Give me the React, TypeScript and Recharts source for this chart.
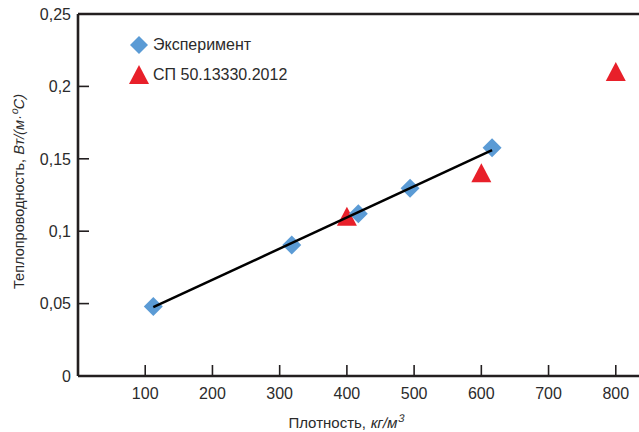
import { ScatterChart, Scatter, XAxis, YAxis, ReferenceLine } from "recharts";

const experimentDensity = [112, 318, 417, 494, 616];
const experimentLambda = [0.048, 0.0905, 0.112, 0.1296, 0.1577];

const spDensity = [400, 600, 800];
const spLambda = [0.11, 0.14, 0.21];

// trend line ends
const trendDensity = [112, 616];
const trendLambda = [0.0475, 0.156];

const xTicks = [100, 200, 300, 400, 500, 600, 700, 800];
const yTicks = [0, 0.05, 0.1, 0.15, 0.2, 0.25];

const experiment = experimentDensity.map((x, i) => ({ x, y: experimentLambda[i] }));
const sp = spDensity.map((x, i) => ({ x, y: spLambda[i] }));
const trend = trendDensity.map((x, i) => ({ x, y: trendLambda[i] }));

const FONT = "'Liberation Sans', Arial, sans-serif";
const AXIS = "#231f20";
const TEXT = "#2b2b2b";
const BLUE = "#5b9bd5";
const RED = "#e8202a";

const Diamond = (props: any) => {
  const { cx, cy } = props;
  const r = 9.5;
  return (
    <polygon
      points={`${cx},${cy - r} ${cx + r},${cy} ${cx},${cy + r} ${cx - r},${cy}`}
      fill={BLUE}
    />
  );
};

const Triangle = (props: any) => {
  const { cx, cy } = props;
  return (
    <polygon points={`${cx},${cy - 10} ${cx + 10},${cy + 9} ${cx - 10},${cy + 9}`} fill={RED} />
  );
};

const NoDot = () => null;

const XTick = (props: any) => {
  const { x, y, payload } = props;
  const axisY = y - 11;
  return (
    <g>
      <line x1={x} y1={axisY} x2={x} y2={axisY - 11} stroke={AXIS} strokeWidth={1.6} />
      <text x={x} y={y} dy="0.72em" textAnchor="middle" fill={TEXT} fontSize={16} fontFamily={FONT}>
        {payload.value}
      </text>
    </g>
  );
};

const YTick = (props: any) => {
  const { x, y, payload } = props;
  const axisX = x + 7;
  return (
    <g>
      {payload.value !== 0 && (
        <line x1={axisX} y1={y} x2={axisX + 11} y2={y} stroke={AXIS} strokeWidth={1.6} />
      )}
      <text x={x} y={y} dy="0.36em" textAnchor="end" fill={TEXT} fontSize={16} fontFamily={FONT}>
        {String(payload.value).replace(".", ",")}
      </text>
    </g>
  );
};

// italic parts drawn as slanted upright glyphs, like the original's oblique face
const XLabel = () => (
  <g fill={TEXT} fontSize={15} fontFamily={FONT}>
    <text x={366} y={428} textAnchor="end">
      Плотность,
    </text>
    <g transform="translate(370 428) skewX(-12)">
      <text x={0} y={0}>
        кг/м
        <tspan fontSize={11} dy={-6}>3</tspan>
      </text>
    </g>
  </g>
);

const YLabel = () => (
  <g fill={TEXT} fontSize={14.5} fontFamily={FONT} transform="translate(24 0) rotate(-90)">
    <text x={-159} y={0} textAnchor="end">
      Теплопроводность,
    </text>
    <g transform="translate(-155.5 0) skewX(-12)">
      <text x={0} y={0}>
        Вт/(м·
        <tspan fontSize={10.5} dy={-6}>o</tspan>
        <tspan dy={6}>С)</tspan>
      </text>
    </g>
  </g>
);

const LegendBox = () => (
  <div
    style={{
      position: "absolute",
      left: 128,
      top: 30,
      fontFamily: FONT,
      fontSize: 16,
      color: TEXT,
      lineHeight: "30px",
    }}
  >
    <div style={{ display: "flex", alignItems: "center", height: 30 }}>
      <svg width={22} height={22} style={{ marginRight: 3 }}>
        <polygon points="11,2 20,11 11,20 2,11" fill={BLUE} />
      </svg>
      Эксперимент
    </div>
    <div style={{ display: "flex", alignItems: "center", height: 30 }}>
      <svg width={22} height={22} style={{ marginRight: 3 }}>
        <polygon points="11,1 21,20 1,20" fill={RED} />
      </svg>
      СП 50.13330.2012
    </div>
  </div>
);

export default function App() {
  return (
    <div
      style={{
        position: "fixed",
        left: 0,
        top: 0,
        width: 639,
        height: 432,
        overflow: "hidden",
        background: "#fff",
      }}
    >
      <ScatterChart width={683} height={432} margin={{ top: 14, right: 0, bottom: 0, left: 0 }}>
        <XAxis
          type="number"
          dataKey="x"
          domain={[0, 900]}
          ticks={xTicks}
          height={56}
          tickSize={0}
          tickMargin={11}
          tick={<XTick />}
          stroke={AXIS}
          strokeWidth={2.6}
          allowDataOverflow
          label={<XLabel />}
        />
        <YAxis
          type="number"
          dataKey="y"
          domain={[0, 0.25]}
          ticks={yTicks}
          width={78}
          tickSize={0}
          tickMargin={7}
          tick={<YTick />}
          stroke={AXIS}
          strokeWidth={2.6}
          label={<YLabel />}
        />
        <ReferenceLine y={0.25} stroke={AXIS} strokeWidth={2.6} />
        <Scatter name="СП 50.13330.2012" data={sp} shape={<Triangle />} isAnimationActive={false} />
        <Scatter name="Эксперимент" data={experiment} shape={<Diamond />} isAnimationActive={false} />
        <Scatter
          data={trend}
          line={{ stroke: "#000", strokeWidth: 2.5 }}
          shape={<NoDot />}
          legendType="none"
          isAnimationActive={false}
        />
      </ScatterChart>
      <LegendBox />
    </div>
  );
}
